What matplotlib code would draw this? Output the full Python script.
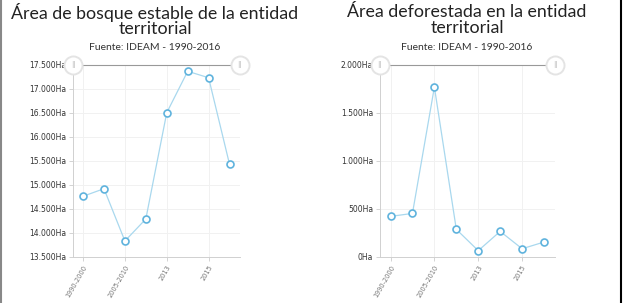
import matplotlib
matplotlib.use("Agg")
import matplotlib.pyplot as plt
from matplotlib.lines import Line2D

# Datos
periodos = ["1990-2000", "2000-2005", "2005-2010", "2010-2012",
            "2013", "2014", "2015", "2016"]
bosque_estable = [14765, 14923, 13833, 14292, 16506, 17369, 17235, 15431]
deforestada = [423, 454, 1770, 288, 66, 267, 86, 156]

ticks_bosque = [13500, 14000, 14500, 15000, 15500, 16000, 16500, 17000, 17500]
ticks_defor = [0, 500, 1000, 1500, 2000]

titulos = ["Área de bosque estable de la entidad\nterritorial",
           "Área deforestada en la entidad\nterritorial"]
fuente = "Fuente: IDEAM - 1990-2016"

W, H = 624, 303
LINEA = "#a9d8ee"
BORDE = "#5fb3dd"


def fmt_ha(v):
    return f"{v:,.0f}".replace(",", ".") + "Ha"


def dibujar(ax, valores, ticks):
    x = list(range(len(valores)))
    ax.plot(x, valores, color=LINEA, lw=0.9, zorder=3)
    ax.plot(x, valores, ls="none", marker="o", ms=5, mfc="white",
            mec=BORDE, mew=1.2, zorder=4)
    ax.set_xlim(-0.48, len(valores) - 0.5)
    ax.set_ylim(ticks[0], ticks[-1])
    ax.set_yticks(ticks)
    ax.set_yticklabels([fmt_ha(t) for t in ticks], fontsize=5.5, color="#333333")
    ax.set_xticks(x[::2])
    ax.set_xticklabels(periodos[::2], rotation=60, ha="right",
                       rotation_mode="anchor", fontsize=4.8, color="#777777")
    ax.tick_params(axis="y", length=3, width=0.6, color="#cccccc", pad=2)
    ax.tick_params(axis="x", length=3, width=0.6, color="#cccccc", pad=2)
    ax.grid(True, color="#f1f1f1", lw=0.7)
    ax.set_axisbelow(True)
    for s in ["top", "right"]:
        ax.spines[s].set_visible(False)
    for s in ["left", "bottom"]:
        ax.spines[s].set_color("#d0d0d0")
        ax.spines[s].set_linewidth(0.7)
    # barra del selector de rango
    x0, x1 = ax.get_xlim()
    top = ticks[-1]
    ax.plot([x0, x1], [top, top], color="#999999", lw=0.8, clip_on=False, zorder=5)
    ax.plot([x0, x1], [top, top], ls="none", marker="o", ms=13, mfc="white",
            mec="#e4e4e4", mew=1.4, clip_on=False, zorder=6)
    for xx in (x0, x1):
        ax.text(xx, top, "||", ha="center", va="center", fontsize=5,
                color="#bbbbbb", zorder=7, clip_on=False)


fig = plt.figure(figsize=(W / 100, H / 100), dpi=100)
fig.patch.set_facecolor("white")

ax1 = fig.add_axes([73 / W, 1 - 257 / H, 167 / W, 192 / H])
ax2 = fig.add_axes([380 / W, 1 - 257 / H, 175 / W, 192 / H])

dibujar(ax1, bosque_estable, ticks_bosque)
dibujar(ax2, deforestada, ticks_defor)

for cx, t in [(155, titulos[0]), (467, titulos[1])]:
    fig.text(cx / W, 1 - 20 / H, t, ha="center", va="center", fontsize=12.8,
             family="Lato", color="#222222", linespacing=0.95)
    fig.text(cx / W, 1 - 47 / H, fuente, ha="center", va="center",
             fontsize=7.5, family="Lato", color="#333333")

# bordes de la captura
fig.add_artist(Line2D([1 / W, 1 / W], [0, 1], color="#888888", lw=1.5))
fig.add_artist(Line2D([621 / W, 621 / W], [0, 1], color="black", lw=1.5))

fig.savefig("out.png", dpi=100)
